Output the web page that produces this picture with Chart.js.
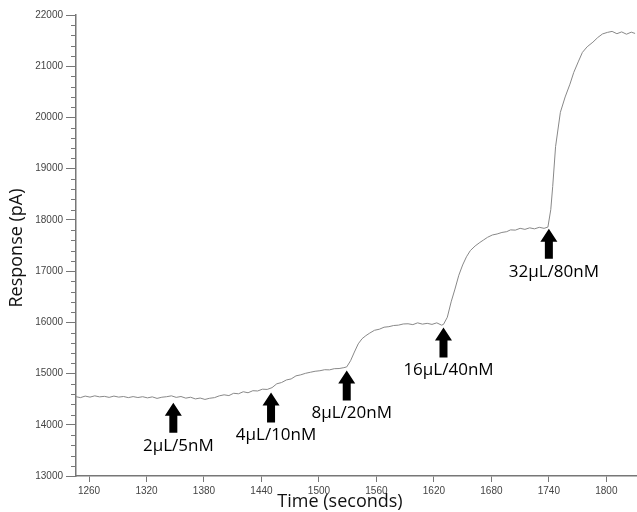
<!DOCTYPE html>
<html>
<head>
<meta charset="utf-8">
<script src="https://cdn.jsdelivr.net/npm/chart.js@4.4.1/dist/chart.umd.min.js"></script>
<style>
  html, body { margin: 0; padding: 0; background: #fff; }
  #wrap { width: 637px; height: 512px; position: relative; }
</style>
</head>
<body>
<div id="wrap"><canvas id="chart"></canvas></div>
<script>
// trace (seconds, pA)
const times = [
    1246, 1251, 1256, 1261, 1266, 1271, 1276, 1281, 1286, 1291, 1296, 1301, 1306, 1311, 1316, 1321,
    1326, 1331, 1336, 1341, 1346, 1351, 1356, 1361, 1366, 1371, 1376, 1381, 1386, 1391, 1396, 1401,
    1406, 1411, 1416, 1421, 1426, 1431, 1436, 1441, 1446, 1451, 1456, 1461, 1466, 1471, 1476, 1481,
    1486, 1491, 1496, 1501, 1506, 1511, 1516, 1521, 1526, 1529, 1533, 1537, 1541, 1545, 1549, 1553,
    1558, 1563, 1568, 1573, 1578, 1583, 1588, 1593, 1598, 1603, 1608, 1613, 1618, 1623, 1628, 1630,
    1634, 1638, 1642, 1646, 1650, 1654, 1658, 1663, 1668, 1672, 1676, 1681, 1686, 1691, 1696, 1700,
    1705, 1710, 1715, 1720, 1725, 1730, 1735, 1739, 1742, 1744, 1747, 1752, 1757, 1762, 1766, 1771,
    1775, 1780, 1786, 1791, 1796, 1801, 1806, 1811, 1816, 1821, 1826, 1830
];
const response = [
    14550, 14530, 14560, 14540, 14565, 14545, 14555, 14535, 14560, 14540, 14552, 14530, 14550, 14532, 14548, 14525,
    14545, 14515, 14538, 14548, 14565, 14535, 14552, 14520, 14538, 14505, 14522, 14495, 14518, 14530, 14565, 14585,
    14570, 14615, 14605, 14645, 14625, 14665, 14660, 14695, 14690, 14725, 14800, 14825, 14875, 14895, 14955, 14975,
    15005, 15025, 15045, 15055, 15075, 15072, 15095, 15098, 15115, 15130, 15250, 15420, 15580, 15680, 15740, 15790,
    15845, 15865, 15905, 15915, 15938, 15945, 15968, 15972, 15955, 15990, 15965, 15980, 15960, 15990, 15945, 15960,
    16100, 16400, 16650, 16920, 17120, 17280, 17400, 17490, 17560, 17610, 17660, 17705, 17725, 17755, 17770, 17805,
    17800, 17835, 17815, 17845, 17825, 17855, 17835, 17860, 18200, 18650, 19430, 20100, 20400, 20650, 20880, 21100,
    21270, 21380, 21470, 21560, 21630, 21660, 21680, 21635, 21670, 21625, 21665, 21640
];

const xTicks = [1260, 1320, 1380, 1440, 1500, 1560, 1620, 1680, 1740, 1800];
const yTicks = [13000, 14000, 15000, 16000, 17000, 18000, 19000, 20000, 21000, 22000];

// injection markers: time, arrow tip value, label
const injTimes = [1348, 1450, 1529, 1630, 1740];
const injTips = [14430, 14630, 15060, 15900, 17825];
const injLabels = ['2µL/5nM', '4µL/10nM', '8µL/20nM', '16µL/40nM', '32µL/80nM'];

const axisColor = '#777';

const overlay = {
    id: 'overlay',
    afterDraw(chart) {
        const { ctx, scales: { x, y }, chartArea } = chart;
        ctx.save();

        // minor ticks on y
        ctx.strokeStyle = axisColor;
        ctx.lineWidth = 1;
        for (let v = y.min; v <= y.max; v += 200) {
            if (v % 1000 === 0) continue;
            const py = Math.round(y.getPixelForValue(v)) + 0.5;
            ctx.beginPath();
            ctx.moveTo(chartArea.left - 5, py);
            ctx.lineTo(chartArea.left, py);
            ctx.stroke();
        }

        // arrows + labels
        ctx.fillStyle = '#000';
        ctx.font = '17px "Open Sans"';
        ctx.textAlign = 'center';
        ctx.textBaseline = 'middle';
        injTimes.forEach((t, i) => {
            const px = x.getPixelForValue(t);
            const tip = y.getPixelForValue(injTips[i]);
            ctx.beginPath();
            ctx.moveTo(px, tip);
            ctx.lineTo(px + 8.5, tip + 13);
            ctx.lineTo(px + 4, tip + 13);
            ctx.lineTo(px + 4, tip + 30);
            ctx.lineTo(px - 4, tip + 30);
            ctx.lineTo(px - 4, tip + 13);
            ctx.lineTo(px - 8.5, tip + 13);
            ctx.closePath();
            ctx.fill();
            ctx.fillText(injLabels[i], px + 5, tip + 43);
        });

        // axis titles
        ctx.font = '18px "Open Sans"';
        ctx.fillStyle = '#111';
        ctx.fillText('Time (seconds)', 340, 502);
        ctx.translate(17, 248);
        ctx.rotate(-Math.PI / 2);
        ctx.fillText('Response (pA)', 0, 0);
        ctx.restore();
    }
};

new Chart(document.getElementById('chart'), {
    type: 'line',
    data: {
        datasets: [{
            data: times.map((t, i) => ({ x: t, y: response[i] })),
            borderColor: '#888',
            borderWidth: 1,
            pointRadius: 0,
            tension: 0
        }]
    },
    options: {
        responsive: true, maintainAspectRatio: false,
        animation: false,
        layout: { padding: { top: 15, right: 0, bottom: 0, left: 0 } },
        plugins: { legend: { display: false }, tooltip: { enabled: false } },
        scales: {
            x: {
                type: 'linear', min: 1246.4, max: 1832,
                afterBuildTicks: s => { s.ticks = xTicks.map(v => ({ value: v })); },
                afterFit: s => { s.height = 36; },
                grid: { drawOnChartArea: false, tickLength: 6, tickColor: axisColor },
                border: { color: axisColor, width: 1.5 },
                ticks: { color: '#444', padding: 3, maxRotation: 0, callback: v => String(v), font: { family: 'Liberation Sans', size: 10 } }
            },
            y: {
                min: 13000, max: 22000,
                afterBuildTicks: s => { s.ticks = yTicks.map(v => ({ value: v })); },
                afterFit: s => { s.width = 76; },
                grid: { drawOnChartArea: false, tickLength: 10, tickColor: axisColor },
                border: { color: axisColor, width: 1.5 },
                ticks: { color: '#444', padding: 3, callback: v => String(v), font: { family: 'Liberation Sans', size: 10 } }
            }
        }
    },
    plugins: [overlay]
});
</script>
</body>
</html>
